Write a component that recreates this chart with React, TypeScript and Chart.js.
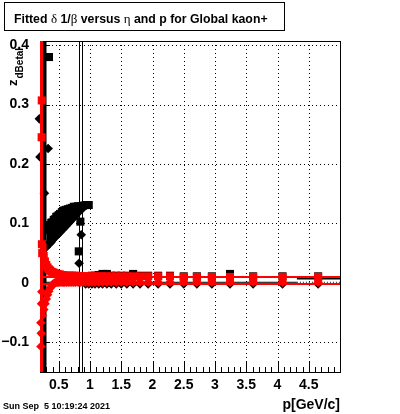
import React, { useEffect, useRef } from 'react';
import { Chart, registerables } from 'chart.js';

Chart.register(...registerables);

// ---------- axis ranges & ticks ----------
const X_MIN = 0.2;
const X_MAX = 5.0;
const Y_MIN = -0.15;
const Y_MAX = 0.407;
const xTickValues = [0.5, 1, 1.5, 2, 2.5, 3, 3.5, 4, 4.5];
const xTickLabels = ['0.5', '1', '1.5', '2', '2.5', '3', '3.5', '4', '4.5'];
const yTickValues = [-0.1, 0, 0.1, 0.2, 0.3, 0.4];
const yTickLabels = ['\u22120.1', '0', '0.1', '0.2', '0.3', '0.4'];

// ---------- data ----------
const pBins = [0.24, 0.26, 0.28, 0.30, 0.32, 0.34, 0.36, 0.38, 0.40, 0.42, 0.44, 0.46, 0.48, 0.50, 0.52, 0.55, 0.57, 0.59, 0.62, 0.65, 0.68, 0.71, 0.74, 0.77, 0.81, 0.85, 0.89, 0.93, 0.98, 1.03, 1.08, 1.14, 1.20, 1.27, 1.34, 1.42, 1.50, 1.59, 1.69, 1.80, 1.93, 2.09, 2.28, 2.50, 2.71, 2.95, 3.24, 3.61, 4.08, 4.65];

const blackSquareValues = [null, null, null, 0.089, 0.092, 0.096, 0.097, 0.101, 0.102, 0.106, 0.107, 0.111, 0.112, 0.114, 0.116, 0.119, 0.121, 0.122, 0.123, 0.124, 0.125, 0.126, 0.128, 0.128, 0.129, 0.129, 0.130, 0.131, 0.131, 0.012, 0.012, 0.013, 0.015, 0.015, 0.012, 0.012, 0.012, 0.012, 0.015, 0.012, 0.012, 0.012, 0.012, 0.011, 0.011, 0.011, 0.015, 0.011, 0.011, 0.011];

const blackDiamondValues = [null, null, null, 0.060, 0.064, 0.065, 0.067, 0.069, 0.072, 0.075, 0.077, 0.079, 0.081, 0.084, 0.085, 0.089, 0.091, 0.093, 0.096, 0.100, 0.103, 0.107, 0.110, 0.113, 0.118, 0.123, 0.126, -0.002, -0.002, -0.002, -0.002, -0.002, -0.002, -0.002, -0.002, -0.002, -0.002, -0.002, -0.002, -0.002, -0.002, -0.002, -0.002, -0.002, -0.002, -0.002, -0.002, -0.002, -0.002, -0.002];

const redSquareValues = [0.060, 0.045, 0.036, 0.030, 0.026, 0.023, 0.021, 0.019, 0.018, 0.017, 0.016, 0.015, 0.015, 0.014, 0.014, 0.013, 0.013, 0.012, 0.012, 0.012, 0.012, 0.012, 0.012, 0.012, 0.011, 0.011, 0.011, 0.011, 0.011, 0.011, 0.011, 0.011, 0.011, 0.011, 0.011, 0.011, 0.011, 0.011, 0.011, 0.011, 0.011, 0.011, 0.011, 0.010, 0.010, 0.010, 0.010, 0.010, 0.010, 0.010];

const redDiamondValues = [-0.055, -0.045, -0.035, -0.027, -0.020, -0.014, -0.009, -0.006, -0.003, -0.001, 0.000, 0.001, 0.001, 0.001, 0.001, 0.001, 0.001, 0.001, 0.001, 0.001, 0.001, 0.001, 0.001, 0.001, 0.001, 0.001, 0.001, 0.001, 0.001, 0.001, 0.001, 0.001, 0.001, 0.001, 0.001, 0.001, 0.001, 0.001, 0.001, 0.001, 0.001, 0.001, 0.001, 0.001, 0.001, 0.001, 0.001, 0.001, 0.001, 0.001];

// isolated markers
const blackSquareOutlierP = [0.344, 0.846, 0.82];
const blackSquareOutlierV = [0.38, 0.103, 0.053];
const blackDiamondOutlierP = [0.19, 0.33, 0.2, 0.27, 0.86, 0.825];
const blackDiamondOutlierV = [0.276, 0.226, 0.212, 0.151, 0.081, 0.033];
const redSquareOutlierP = [0.228, 0.226, 0.23, 0.235];
const redSquareOutlierV = [0.307, 0.245, 0.065, 0.05];
const redDiamondOutlierP = [0.215, 0.216, 0.22, 0.225, 0.23];
const redDiamondOutlierV = [-0.067, -0.107, -0.085, -0.035, -0.015];

// p limit of the dense black band (squares over diamonds)
const bandUpperLimitP = 0.98;
const bandLowerLimitP = 0.89;

// vertical lines (p positions) spanning the whole frame
const verticalSpanV = [-0.3, 0.6];
const blackThickLineP = 0.272;
const blackThinLineP = [0.832, 0.88];
const redThickLineP = 0.224;

// fitted curves
const redFitUpperP = [0.2, 5.0];
const redFitUpperV = [0.010, 0.010];
const redFitLowerP = [0.2, 5.0];
const redFitLowerV = [-0.002, -0.002];
const blackFitP = [0.2, 4.31];
const blackFitV = [0.001, 0.001];
const blackFitDottedP = [4.31, 5.0];
const blackFitDottedV = [0.001, 0.001];
const blackFitUpperP = [4.31, 5.0];
const blackFitUpperV = [0.007, 0.007];

const FONT = "'Liberation Sans', Arial, Helvetica, sans-serif";
const SERIF = "'Liberation Serif', 'Times New Roman', serif";

function pts(ps: number[], vs: (number | null)[]) {
  const out: { x: number; y: number }[] = [];
  ps.forEach((p, i) => {
    const v = vs[i];
    if (v !== null && v !== undefined) out.push({ x: p, y: v });
  });
  return out;
}

const rootPlugin = {
  id: 'rootDecor',
  beforeDatasetsDraw(chart: any) {
    const { ctx, chartArea: a, scales } = chart;
    const x = scales.x;
    const y = scales.y;
    ctx.save();
    // dotted grid
    ctx.strokeStyle = '#000';
    ctx.lineWidth = 1;
    ctx.setLineDash([1, 3]);
    xTickValues.forEach((v) => {
      const px = Math.round(x.getPixelForValue(v)) + 0.5;
      ctx.beginPath();
      ctx.moveTo(px, a.top);
      ctx.lineTo(px, a.bottom);
      ctx.stroke();
    });
    yTickValues.forEach((v) => {
      const py = Math.round(y.getPixelForValue(v)) + 0.5;
      ctx.beginPath();
      ctx.moveTo(a.left, py);
      ctx.lineTo(a.right, py);
      ctx.stroke();
    });
    ctx.setLineDash([]);
    // frame
    ctx.strokeRect(a.left + 0.5, a.top + 0.5, a.right - a.left, a.bottom - a.top);
    // ticks (bottom)
    ctx.beginPath();
    for (let i = 3; i <= 49; i++) {
      const v = i / 10;
      const px = Math.round(x.getPixelForValue(v)) + 0.5;
      const major = i % 5 === 0;
      ctx.moveTo(px, a.bottom);
      ctx.lineTo(px, a.bottom - (major ? 10 : 5));
    }
    // ticks (left)
    for (let i = -7; i <= 20; i++) {
      const v = i / 50;
      const py = Math.round(y.getPixelForValue(v)) + 0.5;
      const major = i % 5 === 0;
      ctx.moveTo(a.left, py);
      ctx.lineTo(a.left + (major ? 10 : 5), py);
    }
    ctx.stroke();
    ctx.restore();
  },
  afterDraw(chart: any) {
    const { ctx } = chart;
    ctx.save();
    // title box
    ctx.fillStyle = '#fff';
    ctx.fillRect(5, 3, 279, 27);
    ctx.strokeStyle = '#000';
    ctx.lineWidth = 1;
    ctx.strokeRect(4.5, 2.5, 280, 28);
    ctx.fillStyle = '#000';
    ctx.textBaseline = 'alphabetic';
    ctx.textAlign = 'left';
    const segs: [string, string][] = [
      ['Fitted ', `bold 12.3px ${FONT}`],
      ['\u03b4', `13px ${SERIF}`],
      [' 1/', `bold 12.3px ${FONT}`],
      ['\u03b2', `13px ${SERIF}`],
      [' versus ', `bold 12.3px ${FONT}`],
      ['\u03b7', `13px ${SERIF}`],
      [' and p for Global kaon+', `bold 12.3px ${FONT}`],
    ];
    let tx = 14;
    segs.forEach(([t, f]) => {
      ctx.font = f;
      ctx.fillText(t, tx, 22.5);
      tx += ctx.measureText(t).width;
    });
    // date
    ctx.font = `bold 9px ${FONT}`;
    ctx.fillText('Sun Sep  5 10:19:24 2021', 3, 409);
    // x title
    ctx.font = `bold 14px ${FONT}`;
    ctx.textAlign = 'right';
    ctx.fillText('p[GeV/c]', 340, 409);
    // y title (rotated)
    ctx.textAlign = 'left';
    ctx.translate(17, 86);
    ctx.rotate(-Math.PI / 2);
    ctx.font = `bold 13px ${FONT}`;
    ctx.fillText('z', 0, 0);
    const zw = ctx.measureText('z').width;
    ctx.font = `bold 10px ${FONT}`;
    ctx.fillText('dBetaI', zw + 1, 6);
    ctx.restore();
  },
};

export default function App() {
  const ref = useRef<HTMLCanvasElement | null>(null);
  useEffect(() => {
    if (!ref.current) return;
    const ds: any[] = [];
    const marker = (data: any[], style: string, color: string, r: number, extra: any = {}) => ({
      data,
      showLine: false,
      pointStyle: style,
      pointRadius: r,
      pointHoverRadius: r,
      pointBackgroundColor: color,
      pointBorderColor: color,
      pointBorderWidth: 0,
      ...extra,
    });
    const line = (data: any[], color: string, w: number, extra: any = {}) => ({
      data,
      showLine: true,
      borderColor: color,
      borderWidth: w,
      pointRadius: 0,
      pointHoverRadius: 0,
      tension: 0,
      fill: false,
      ...extra,
    });

    const bandUpper = pts(pBins, blackSquareValues).filter((d) => d.x <= bandUpperLimitP);
    const bandLower = pts(pBins, blackDiamondValues).filter((d) => d.x <= bandLowerLimitP);

    // bottom -> top
    ds.push({ ...line(bandUpper, '#000', 0), fill: '+1', backgroundColor: '#000' });
    ds.push(line(bandLower, '#000', 0));
    ds.push(line(verticalSpanV.map((v) => ({ x: blackThickLineP, y: v })), '#000', 4));
    blackThinLineP.forEach((p) => ds.push(line(verticalSpanV.map((v) => ({ x: p, y: v })), '#000', 1)));
    ds.push(marker(pts(pBins, blackSquareValues), 'rect', '#000', 5.7));
    ds.push(marker(pts(pBins, blackDiamondValues), 'rectRot', '#000', 4.8));
    ds.push(marker(pts(blackSquareOutlierP, blackSquareOutlierV), 'rect', '#000', 5.7, { clip: false }));
    ds.push(marker(pts(blackDiamondOutlierP, blackDiamondOutlierV), 'rectRot', '#000', 4.8, { clip: false }));
    ds.push(line(pts(blackFitP, blackFitV), '#000', 1));
    ds.push(line(pts(blackFitDottedP, blackFitDottedV), '#000', 1, { borderDash: [1, 2] }));
    ds.push(line(pts(blackFitUpperP, blackFitUpperV), '#000', 1.5));
    ds.push(marker(pts(pBins, redSquareValues), 'rect', '#ff0000', 5.7));
    ds.push(marker(pts(pBins, redDiamondValues), 'rectRot', '#ff0000', 4.8));
    ds.push(marker(pts(redSquareOutlierP, redSquareOutlierV), 'rect', '#ff0000', 5.7, { clip: false }));
    ds.push(marker(pts(redDiamondOutlierP, redDiamondOutlierV), 'rectRot', '#ff0000', 4.8, { clip: false }));
    ds.push(line(pts(redFitUpperP, redFitUpperV), '#ff0000', 2));
    ds.push(line(pts(redFitLowerP, redFitLowerV), '#ff0000', 2));
    ds.push(line(verticalSpanV.map((v) => ({ x: redThickLineP, y: v })), '#ff0000', 3));
    ds.forEach((d, i) => (d.order = 1000 - i));

    const chart = new Chart(ref.current, {
      type: 'scatter',
      data: { datasets: ds },
      options: {
        responsive: false,
        maintainAspectRatio: false,
        animation: false,
        devicePixelRatio: 1,
        events: [],
        layout: { padding: { left: 0, right: 60, top: 41, bottom: 0 } },
        plugins: {
          legend: { display: false },
          title: { display: false },
          tooltip: { enabled: false },
        },
        scales: {
          x: {
            type: 'linear',
            min: X_MIN,
            max: X_MAX,
            grid: { display: false },
            border: { display: false },
            afterFit: (s: any) => {
              s.height = 42;
            },
            afterBuildTicks: (s: any) => {
              s.ticks = xTickValues.map((v) => ({ value: v }));
            },
            ticks: {
              autoSkip: false,
              maxRotation: 0,
              padding: -3,
              color: '#000',
              font: { family: FONT, size: 14, weight: 'bold' },
              callback: (v: any) => {
                const i = xTickValues.indexOf(Number(v));
                return i >= 0 ? xTickLabels[i] : '';
              },
            },
          },
          y: {
            type: 'linear',
            min: Y_MIN,
            max: Y_MAX,
            grid: { display: false },
            border: { display: false },
            afterFit: (s: any) => {
              s.width = 40;
            },
            afterBuildTicks: (s: any) => {
              s.ticks = yTickValues.map((v) => ({ value: v }));
            },
            ticks: {
              autoSkip: false,
              padding: 3,
              color: '#000',
              font: { family: FONT, size: 14, weight: 'bold' },
              callback: (v: any) => {
                const i = yTickValues.findIndex((t) => Math.abs(t - Number(v)) < 1e-9);
                return i >= 0 ? yTickLabels[i] : '';
              },
            },
          },
        },
      },
      plugins: [rootPlugin],
    });
    return () => chart.destroy();
  }, []);

  return (
    <canvas
      ref={ref}
      width={400}
      height={414}
      style={{ position: 'absolute', left: 0, top: 0, width: 400, height: 414, background: '#fff' }}
    />
  );
}
